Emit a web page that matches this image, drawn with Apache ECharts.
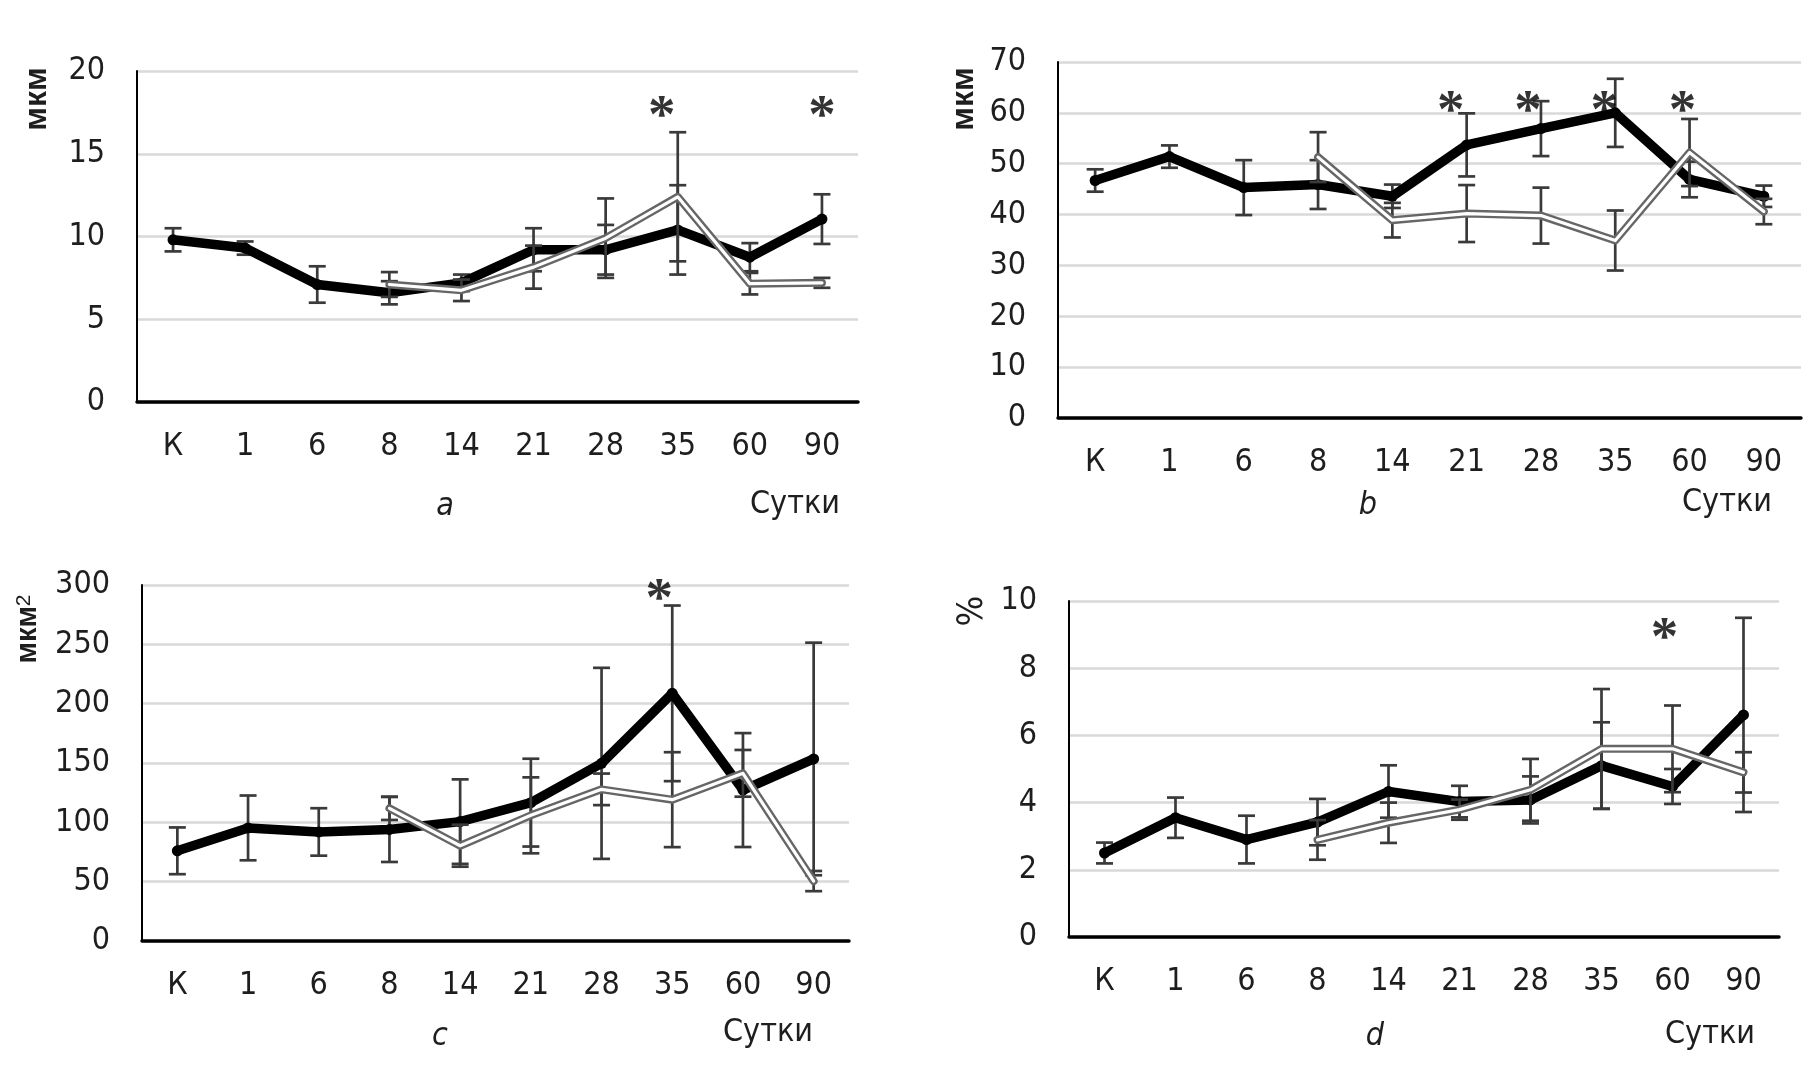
<!DOCTYPE html>
<html>
<head>
<meta charset="utf-8">
<script src="https://cdn.jsdelivr.net/npm/echarts@6/dist/echarts.min.js"></script>
<style>
html,body{margin:0;padding:0;background:#fff;}
#chart{width:1814px;height:1071px;}
</style>
</head>
<body>
<div id="chart"></div>
<script>
// ---- data ----
const categories = ['К', '1', '6', '8', '14', '21', '28', '35', '60', '90'];

const aMain    = [9.8, 9.3, 7.1, 6.6, 7.2, 9.2, 9.2, 10.4, 8.75, 11.05];
const aMainErr = [0.7, 0.4, 1.1, 0.7, 0.5, 1.3, 1.5, 2.7, 0.85, 1.5];
const aAlt     = [null, null, null, 7.1, 6.75, 8.15, 9.9, 12.4, 7.15, 7.2];
const aAltErr  = [null, null, null, 0.75, 0.65, 1.3, 2.4, 3.9, 0.65, 0.3];

const bMain    = [46.7, 51.4, 45.3, 45.9, 43.6, 53.7, 56.9, 60.0, 46.9, 43.6];
const bMainErr = [2.2, 2.2, 5.4, 4.8, 2.3, 6.2, 5.4, 6.7, 3.5, 2.1];
const bAlt     = [null, null, null, 51.3, 38.9, 40.2, 39.8, 34.9, 52.2, 40.6];
const bAltErr  = [null, null, null, 4.9, 3.4, 5.6, 5.5, 5.9, 6.6, 2.5];

const cMain    = [76, 95.3, 91.9, 94, 100.6, 116.6, 149.7, 208.7, 127.2, 153.4];
const cMainErr = [19.7, 27.3, 20, 27.4, 35.6, 37, 80.5, 74, 48, 98];
const cAlt     = [null, null, null, 111.8, 80.3, 105.9, 127.8, 119.1, 141.3, 50.5];
const cAltErr  = [null, null, null, 9.8, 17.7, 32, 13.3, 40, 19.7, 8.5];

const dMain    = [2.5, 3.55, 2.9, 3.42, 4.33, 4.03, 4.08, 5.1, 4.48, 6.61];
const dMainErr = [0.31, 0.6, 0.71, 0.69, 0.78, 0.47, 0.7, 1.29, 0.52, 2.89];
const dAlt     = [null, null, null, 2.89, 3.4, 3.79, 4.38, 5.6, 5.6, 4.9];
const dAltErr  = [null, null, null, 0.59, 0.6, 0.3, 0.92, 1.78, 1.29, 0.6];

// significance marks (category index, height in axis units)
const aStars = [[7, 17.9], [9, 17.9]];
const bStars = [[5, 62.3], [6, 62.3], [7, 62.3], [8, 62.3]];
const cStars = [[7, 297]];
const dStars = [[8, 9.2]];

const aTicks = {min: 0, max: 20, interval: 5};
const bTicks = {min: 0, max: 70, interval: 10};
const cTicks = {min: 0, max: 300, interval: 50};
const dTicks = {min: 0, max: 10, interval: 2};

// ---- layout / style ----
const starShift = {a: [-16, 0], b: [-16, -13, -11, -7], c: [-13], d: [-8]};
const FONT = "'Liberation Sans Narrow', 'DejaVu Sans Condensed', 'Roboto Condensed', 'Liberation Sans', sans-serif";
const TXT = '#1e1e1e';
const grids = [
  {left: 137, top: 71, width: 721, height: 331},
  {left: 1058, top: 62, width: 743, height: 356},
  {left: 142, top: 585, width: 707, height: 356},
  {left: 1069, top: 601, width: 710, height: 336}
];

function errData(vals, errs) {
  const out = [];
  vals.forEach((v, i) => {
    if (v != null && errs[i] != null) out.push([i, v - errs[i], v + errs[i]]);
  });
  return out;
}

function errRender(params, api) {
  const x = api.value(0);
  const lo = api.value(1), hi = api.value(2);
  const p1 = api.coord([x, hi]);
  const p2 = api.coord([x, lo]);
  const w = 8.5;
  const st = {stroke: '#3a3a3a', lineWidth: 2.7};
  return {
    type: 'group',
    children: [
      {type: 'line', shape: {x1: p1[0], y1: p1[1], x2: p2[0], y2: p2[1]}, style: st},
      {type: 'line', shape: {x1: p1[0] - w, y1: p1[1], x2: p1[0] + w, y2: p1[1]}, style: st},
      {type: 'line', shape: {x1: p2[0] - w, y1: p2[1], x2: p2[0] + w, y2: p2[1]}, style: st}
    ]
  };
}

const xAxes = [], yAxes = [], series = [];
const panels = [
  {main: aMain, mainErr: aMainErr, alt: aAlt, altErr: aAltErr, stars: aStars, shift: starShift.a, ticks: aTicks},
  {main: bMain, mainErr: bMainErr, alt: bAlt, altErr: bAltErr, stars: bStars, shift: starShift.b, ticks: bTicks},
  {main: cMain, mainErr: cMainErr, alt: cAlt, altErr: cAltErr, stars: cStars, shift: starShift.c, ticks: cTicks},
  {main: dMain, mainErr: dMainErr, alt: dAlt, altErr: dAltErr, stars: dStars, shift: starShift.d, ticks: dTicks}
];

panels.forEach((p, g) => {
  xAxes.push({
    type: 'category', gridIndex: g, data: categories, boundaryGap: true,
    axisLine: {show: true, lineStyle: {color: '#000', width: 3.5}},
    axisTick: {show: false},
    axisLabel: {fontFamily: FONT, fontSize: 32, color: TXT, margin: 29, interval: 0},
    splitLine: {show: false}
  });
  yAxes.push({
    type: 'value', gridIndex: g, min: p.ticks.min, max: p.ticks.max, interval: p.ticks.interval,
    axisLine: {show: true, lineStyle: {color: '#000', width: 2}},
    axisTick: {show: false},
    axisLabel: {fontFamily: FONT, fontSize: 32, color: TXT, margin: 32},
    splitLine: {show: true, lineStyle: {color: '#d9d9d9', width: 2.6}}
  });
  series.push({
    type: 'custom', xAxisIndex: g, yAxisIndex: g, renderItem: errRender,
    data: errData(p.main, p.mainErr), encode: {x: 0, y: [1, 2]}, z: 1, animation: false, silent: true
  });
  series.push({
    type: 'line', xAxisIndex: g, yAxisIndex: g, data: p.main,
    symbol: 'circle', symbolSize: 11, itemStyle: {color: '#000'},
    lineStyle: {color: '#000', width: 9.5, cap: 'round', join: 'round'},
    z: 2, animation: false, silent: true
  });
  series.push({
    type: 'custom', xAxisIndex: g, yAxisIndex: g, renderItem: errRender,
    data: errData(p.alt, p.altErr), encode: {x: 0, y: [1, 2]}, z: 3, animation: false, silent: true
  });
  series.push({
    type: 'line', xAxisIndex: g, yAxisIndex: g, data: p.alt,
    symbol: 'none', connectNulls: false,
    lineStyle: {color: '#666666', width: 8, cap: 'round', join: 'round'},
    z: 4, animation: false, silent: true
  });
  series.push({
    type: 'line', xAxisIndex: g, yAxisIndex: g, data: p.alt,
    symbol: 'none', connectNulls: false,
    lineStyle: {color: '#ffffff', width: 3.2, cap: 'round', join: 'round'},
    z: 5, animation: false, silent: true
  });
  series.push({
    type: 'scatter', xAxisIndex: g, yAxisIndex: g, symbolSize: 0,
    data: p.stars.map((s, k) => ({
      value: s,
      label: {show: true, formatter: '*', position: 'inside', offset: [p.shift[k], 12],
        fontFamily: "'Liberation Serif', 'DejaVu Serif', serif", fontWeight: 'bold', fontSize: 55, color: '#000'}
    })),
    z: 6, animation: false, silent: true
  });
});

function vText(x, y, text, font) {
  return {
    type: 'text', x: x, y: y, rotation: Math.PI / 2,
    style: {text: text, font: font || "bold 32px 'Liberation Sans', Arial, sans-serif", fill: TXT,
      align: 'center', verticalAlign: 'middle', textAlign: 'center', textVerticalAlign: 'middle'}
  };
}
function hText(x, y, text, italic, align) {
  return {
    type: 'text', x: x, y: y,
    style: {text: text, font: (italic ? 'italic ' : '') + '32px ' + FONT, fill: TXT,
      align: align || 'center', verticalAlign: 'middle', textAlign: align || 'center', textVerticalAlign: 'middle'}
  };
}

const graphics = [
  vText(37, 99, 'мкм'),
  vText(964, 99, 'мкм'),
  {
    type: 'text', x: 28, y: 629, rotation: Math.PI / 2,
    style: {text: '{b|мкм}{s|2}', fill: TXT, align: 'center', verticalAlign: 'middle',
      textAlign: 'center', textVerticalAlign: 'middle',
      rich: {
        b: {font: "bold 29px 'Liberation Sans', Arial, sans-serif", fill: TXT, verticalAlign: 'bottom'},
        s: {font: "21px 'Liberation Sans', Arial, sans-serif", fill: TXT, verticalAlign: 'top'}
      }}
  },
  vText(973, 611, '%', '36px ' + FONT),
  hText(445, 507, 'a', true),
  hText(840, 505, 'Сутки', false, 'right'),
  hText(1368, 506, 'b', true),
  hText(1772, 503, 'Сутки', false, 'right'),
  hText(440, 1037, 'c', true),
  hText(813, 1033, 'Сутки', false, 'right'),
  hText(1375, 1037, 'd', true),
  hText(1755, 1035, 'Сутки', false, 'right')
];

const chart = echarts.init(document.getElementById('chart'), null, {renderer: 'canvas'});
chart.setOption({
  animation: false,
  backgroundColor: '#ffffff',
  grid: grids.map(g => Object.assign({containLabel: false, outerBoundsMode: 'none'}, g)),
  xAxis: xAxes,
  yAxis: yAxes,
  series: series,
  graphic: graphics
});
</script>
</body>
</html>
